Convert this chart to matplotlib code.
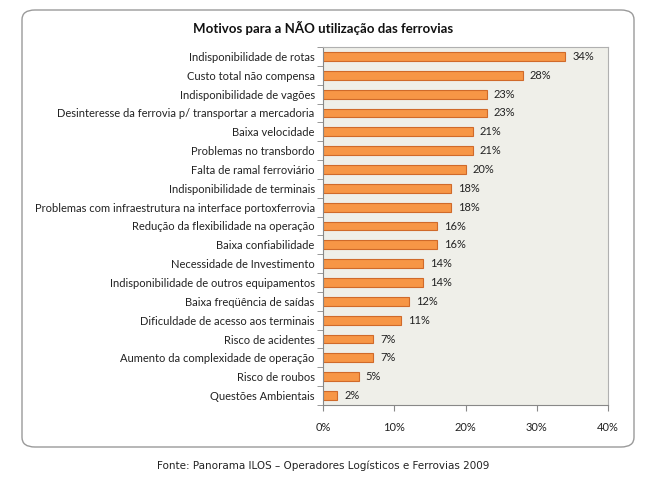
import matplotlib.pyplot as plt
import numpy as np
from matplotlib.patches import FancyBboxPatch

# DATA
motivos = [
    "Indisponibilidade de rotas",
    "Custo total não compensa",
    "Indisponibilidade de vagões",
    "Desinteresse da ferrovia p/ transportar a mercadoria",
    "Baixa velocidade",
    "Problemas no transbordo",
    "Falta de ramal ferroviário",
    "Indisponibilidade de terminais",
    "Problemas com infraestrutura na interface portoxferrovia",
    "Redução da flexibilidade na operação",
    "Baixa confiabilidade",
    "Necessidade de Investimento",
    "Indisponibilidade de outros equipamentos",
    "Baixa freqüência de saídas",
    "Dificuldade de acesso aos terminais",
    "Risco de acidentes",
    "Aumento da complexidade de operação",
    "Risco de roubos",
    "Questões Ambientais",
]
percentuais = [34, 28, 23, 23, 21, 21, 20, 18, 18, 16, 16, 14, 14, 12, 11, 7, 7, 5, 2]
x_ticks = [0, 10, 20, 30, 40]

plt.rcParams['font.family'] = ['Lato', 'DejaVu Sans']

fig = plt.figure(figsize=(6.47, 4.82), dpi=100)

# rounded frame around the chart
frame = FancyBboxPatch((22 / 647, 1 - 447 / 482), 612 / 647, 437 / 482,
                       boxstyle="round,pad=0,rounding_size=0.02",
                       transform=fig.transFigure, facecolor="white",
                       edgecolor="#9a9a9a", linewidth=1.0, zorder=-10)
fig.patches.append(frame)

ax = fig.add_axes([323 / 647, 1 - 405 / 482, 285 / 647, 358 / 482])
ax.set_zorder(5)
ax.set_facecolor("#efefe9")

y = np.arange(len(motivos))
ax.barh(y, percentuais, height=0.47, color="#f79646", edgecolor="#d06a2a", linewidth=0.8)

for yi, v in zip(y, percentuais):
    ax.text(v + 1.0, yi, f"{v}%", va="center", ha="left", fontsize=8, color="#222222")

ax.set_xlim(0, 40)
ax.set_ylim(len(motivos) - 0.5, -0.5)
ax.set_xticks(x_ticks)
ax.set_xticklabels([f"{t}%" for t in x_ticks], fontsize=8, color="#222222")
ax.set_yticks(y)
ax.set_yticklabels(motivos, fontsize=8, color="#222222")
ax.set_yticks(np.arange(len(motivos) + 1) - 0.5, minor=True)
ax.tick_params(axis="y", which="major", length=0, pad=6)
ax.tick_params(axis="y", which="minor", length=4, color="#888888", direction="out")
ax.tick_params(axis="x", length=4, color="#888888", pad=8)

for s in ["top", "right"]:
    ax.spines[s].set_color("#b0b0b0")
for s in ["left", "bottom"]:
    ax.spines[s].set_color("#888888")
for s in ax.spines.values():
    s.set_linewidth(0.8)

fig.text(323 / 647, 1 - 28 / 482, "Motivos para a NÃO utilização das ferrovias",
         ha="center", va="center", fontsize=9.5, fontweight="bold", color="#111111")

fig.text(323 / 647, 1 - 466 / 482,
         "Fonte: Panorama ILOS – Operadores Logísticos e Ferrovias 2009",
         ha="center", va="center", fontsize=7.5, family="DejaVu Sans", color="#222222")

fig.savefig("out.png", dpi=100)
